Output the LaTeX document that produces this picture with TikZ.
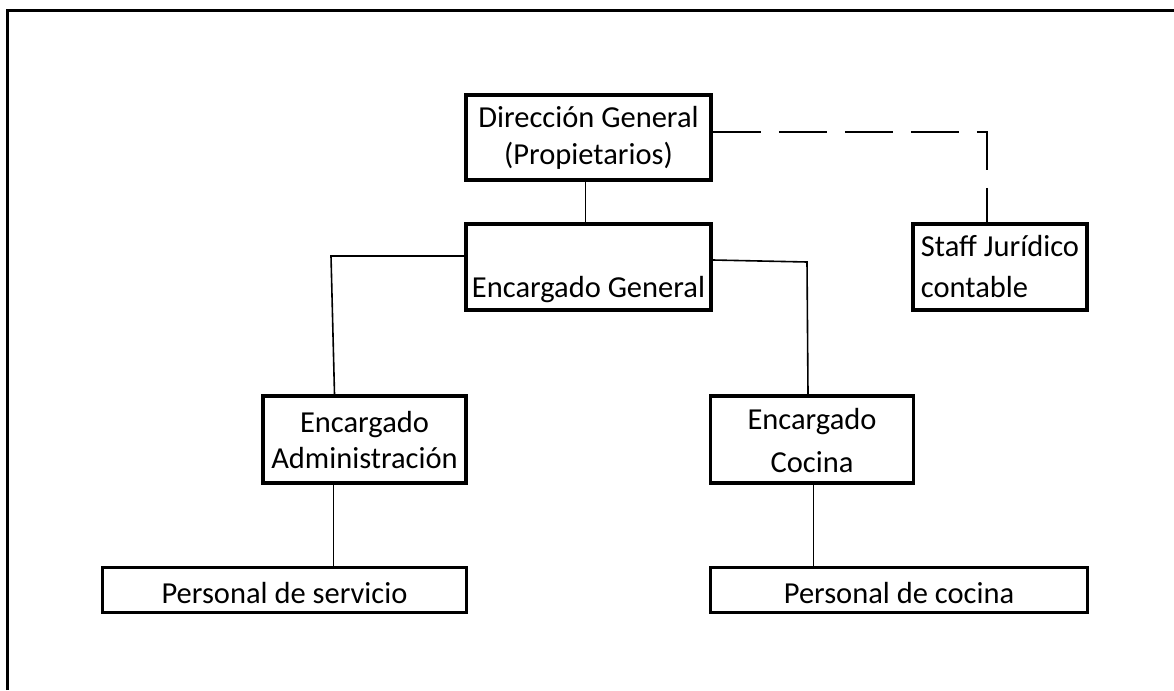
\documentclass[tikz,border=0pt]{standalone}
\usepackage{fontspec}
\setmainfont{Carlito}
\tikzset{
  orgbox/.style={draw=black, line width=3.5pt, inner sep=0pt, align=center,
    font=\fontsize{30.5}{37}\selectfont, text=black},
  link/.style={draw=black, line width=1.6pt},
  staffdash/.style={draw=black, line width=1.6pt, dash pattern=on 48pt off 18pt}
}
\begin{document}
\begin{tikzpicture}[x=1pt,y=-1pt]
\useasboundingbox (0,0) rectangle (1174,690);
\fill[white] (0,0) rectangle (1174,690);
% outer frame (only top and left visible)
\draw[line width=3.5pt] (7.5,690) -- (7.5,10.5) -- (1174,10.5);

\node[orgbox, minimum width=245pt, minimum height=85pt] (dir) at (588.5,137.5)
  {Dirección General\\(Propietarios)};
\node[orgbox, minimum width=245pt, minimum height=86pt] (gen) at (588.5,267)
  {\strut\\[4pt]Encargado General};
\node[orgbox, minimum width=174pt, minimum height=86pt, align=left] (staff) at (1000,267)
  {Staff Jurídico\\[4pt]contable};
\node[orgbox, minimum width=203pt, minimum height=87pt] (adm) at (364.5,439.5)
  {Encargado\\[-3pt]\raisebox{-2pt}[\height][\depth]{Administración}};
\node[orgbox, minimum width=203pt, minimum height=87pt] (coc) at (812,439.5)
  {Encargado\\[4pt]\raisebox{-2pt}[\height][\depth]{Cocina}};
\node[orgbox, minimum width=364pt, minimum height=45pt] (ps) at (284.5,590)
  {\raisebox{-3pt}[\height][\depth]{Personal de servicio}};
\node[orgbox, minimum width=377pt, minimum height=45pt] (pc) at (899,590)
  {\raisebox{-3pt}[\height][\depth]{Personal de cocina}};

% connectors
\draw[link] ([xshift=-3pt]dir.south) -- ([xshift=-3pt]gen.north);
\draw[link] ([yshift=11pt]gen.west) -- (331,256) -- ([xshift=-30pt]adm.north);
\draw[link] ([yshift=7pt]gen.east) -- (807,262) -- ([xshift=-4pt]coc.north);
\draw[link] ([xshift=-31pt]adm.south) -- ([xshift=49pt]ps.north);
\draw[link] ([xshift=1.3pt]coc.south) -- ([xshift=-85.7pt]pc.north);
\draw[staffdash] ([yshift=5.5pt]dir.east) -- (987,132) -- ([xshift=-13pt]staff.north);
\end{tikzpicture}
\end{document}
